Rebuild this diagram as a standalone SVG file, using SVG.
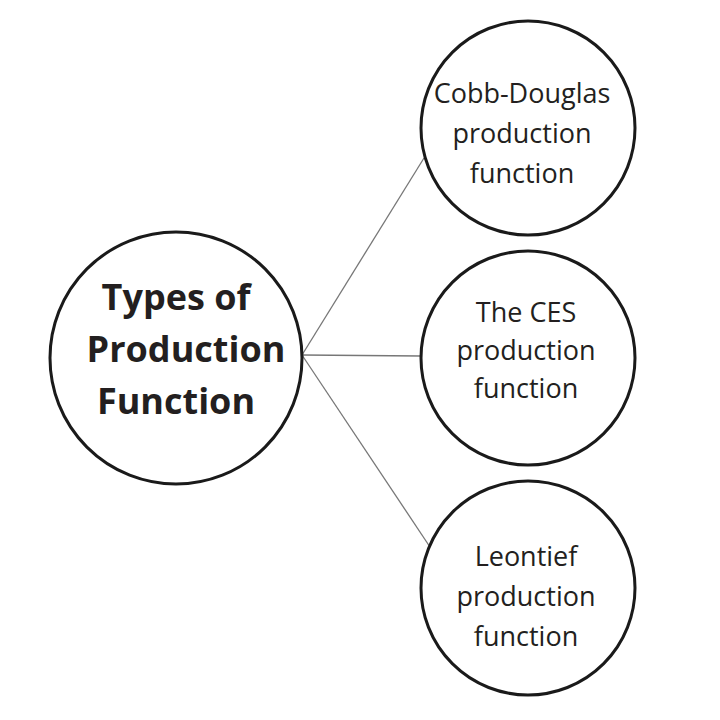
<svg xmlns="http://www.w3.org/2000/svg" width="720" height="720" viewBox="0 0 720 720">
<style>
.c{fill:#fff;stroke:#1a1a1a;stroke-width:3}
.l{stroke:#777;stroke-width:1.3;fill:none}
.t{font-family:"Open Sans","Liberation Sans",sans-serif;font-size:27px;fill:#231f20;text-anchor:middle}
.b{font-family:"Open Sans","Liberation Sans",sans-serif;font-size:36px;font-weight:bold;fill:#231f20;text-anchor:middle}
</style>
<rect width="720" height="720" fill="#fff"/>
<g id="connectors">
<line class="l" x1="302" y1="355" x2="424" y2="158"/>
<line class="l" x1="302" y1="355" x2="421" y2="356"/>
<line class="l" x1="302" y1="355" x2="432" y2="550"/>
</g>
<g id="main"><circle class="c" cx="176" cy="358" r="126"/>
<text class="b" x="176" y="310">Types of</text><text class="b" x="186" y="362">Production</text><text class="b" x="176" y="414">Function</text></g>
<g id="cobb"><circle class="c" cx="528" cy="128" r="107"/>
<text class="t" x="522" y="103">Cobb-Douglas</text><text class="t" x="522" y="143">production</text><text class="t" x="522" y="183">function</text></g>
<g id="ces"><circle class="c" cx="528" cy="358" r="107"/>
<text class="t" x="526" y="322">The CES</text><text class="t" x="526" y="360">production</text><text class="t" x="526" y="398">function</text></g>
<g id="leontief"><circle class="c" cx="528" cy="588" r="107"/>
<text class="t" x="526" y="566">Leontief</text><text class="t" x="526" y="606">production</text><text class="t" x="526" y="646">function</text></g>
</svg>
